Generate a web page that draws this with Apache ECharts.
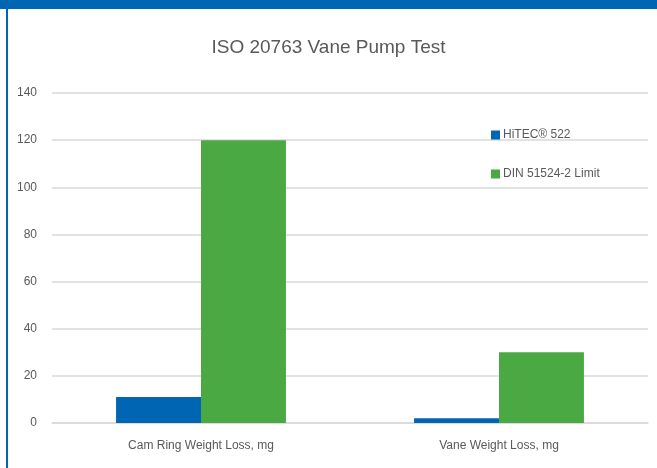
<!DOCTYPE html>
<html>
<head>
<meta charset="utf-8">
<script src="https://cdn.jsdelivr.net/npm/echarts@6/dist/echarts.min.js"></script>
<style>
  html, body { margin: 0; padding: 0; background: #fff; }
  #chart { width: 657px; height: 468px; }
</style>
</head>
<body>
<div id="chart"></div>
<script>
const categories = ["Cam Ring Weight Loss, mg", "Vane Weight Loss, mg"];
const hitecValues = [11, 2];
const dinLimitValues = [120, 30];
const seriesNames = ["HiTEC\u00ae 522", "DIN 51524-2 Limit"];

const font = "'Liberation Sans', Arial, sans-serif";
const textColor = "#595959";

const chart = echarts.init(document.getElementById("chart"));

const option = {
  animation: false,
  color: ["#0066b3", "#4aa942"],
  title: {
    text: "ISO 20763 Vane Pump Test",
    left: "center",
    top: 33,
    textStyle: {
      fontFamily: font,
      fontSize: 19,
      fontWeight: "normal",
      color: textColor
    }
  },
  graphic: [
    { type: "rect", shape: { x: 0, y: 0, width: 657, height: 9 }, style: { fill: "#0066b3" } },
    { type: "rect", shape: { x: 6, y: 0, width: 2, height: 468 }, style: { fill: "#0066b3" } }
  ],
  legend: {
    orient: "vertical",
    left: 486,
    top: 124,
    itemWidth: 9,
    itemHeight: 9,
    itemGap: 27,
    icon: "rect",
    textStyle: { fontFamily: font, fontSize: 12, color: textColor, padding: [0, 0, 0, -2] }
  },
  grid: { left: 52, right: 9, top: 93, bottom: 45 },
  xAxis: {
    type: "category",
    data: categories,
    axisLine: { lineStyle: { color: "#d9d9d9", width: 1.5 } },
    axisTick: { show: false },
    axisLabel: { fontFamily: font, fontSize: 12, color: textColor, margin: 17 }
  },
  yAxis: {
    type: "value",
    min: 0,
    max: 140,
    interval: 20,
    axisLine: { show: false },
    axisTick: { show: false },
    axisLabel: { fontFamily: font, fontSize: 12, color: textColor, margin: 15 },
    splitLine: { lineStyle: { color: "#d9d9d9", width: 1.5 } }
  },
  series: [
    {
      name: seriesNames[0],
      type: "bar",
      data: hitecValues,
      barGap: "0%",
      barCategoryGap: "43%"
    },
    {
      name: seriesNames[1],
      type: "bar",
      data: dinLimitValues,
      barGap: "0%",
      barCategoryGap: "43%"
    }
  ]
};

chart.setOption(option);

window.addEventListener("resize", () => {
  chart.resize();
});
</script>
</body>
</html>
